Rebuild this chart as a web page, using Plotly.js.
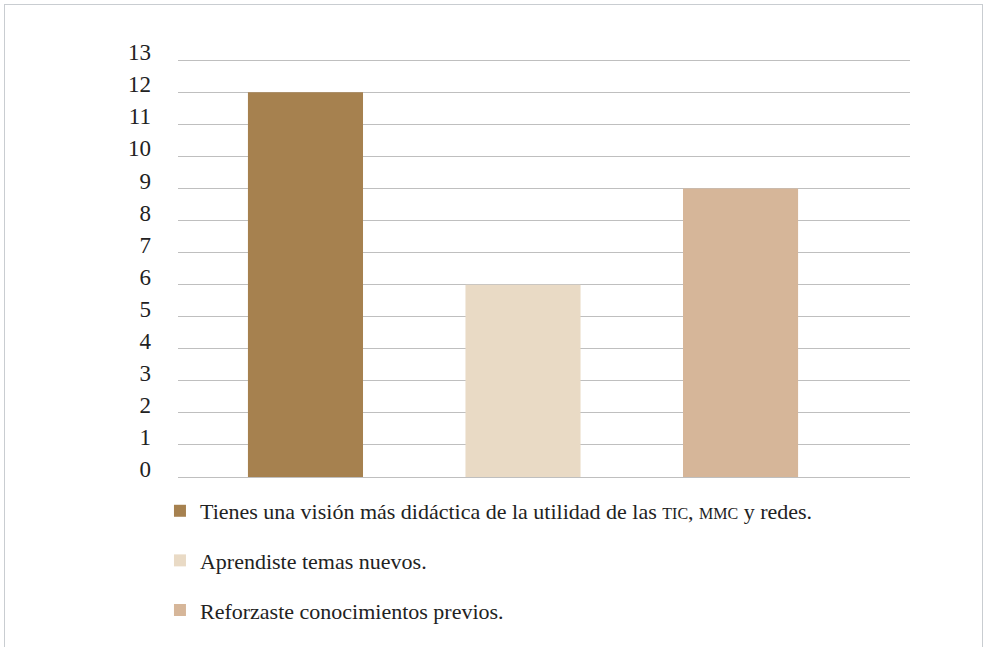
<!DOCTYPE html>
<html>
<head>
<meta charset="utf-8">
<script src="https://cdn.plot.ly/plotly-3.0.1.min.js"></script>
<style>
  html, body { margin: 0; padding: 0; background: #fff; }
  #wrap { position: relative; width: 985px; height: 647px; }
  #chart { width: 985px; height: 647px; }
  #frame { position: absolute; left: 4px; top: 4px; width: 979px; height: 660px;
           border-left: 1px solid #C9CDD1; border-top: 1px solid #C9CDD1; border-right: 1px solid #C9CDD1;
           pointer-events: none; box-sizing: border-box; }
</style>
</head>
<body>
<div id="wrap">
  <div id="chart"></div>
  <div id="frame"></div>
</div>
<script>
const categories = [
  'Tienes una visión más didáctica de la utilidad de las <span style="font-size:16px">TIC</span>, <span style="font-size:16px">MMC</span> y redes.',
  'Aprendiste temas nuevos.',
  'Reforzaste conocimientos previos.'
];
const values = [12, 6, 9];
const colors = ['#A6814F', '#E9DAC5', '#D6B699'];
const tickVals = [0,1,2,3,4,5,6,7,8,9,10,11,12,13];

const serif = 'Liberation Serif, DejaVu Serif, serif';

const traces = categories.map((name, i) => ({
  type: 'bar',
  x: [i],
  y: [values[i]],
  name: name,
  legendgroup: 'g' + i,
  marker: { color: colors[i], line: { width: 0 } },
  width: 0.529,
  hoverinfo: 'y'
}));

const layout = {
  width: 985,
  height: 647,
  margin: { l: 178, r: 75, t: 57, b: 170, autoexpand: false },
  paper_bgcolor: '#ffffff',
  plot_bgcolor: '#ffffff',
  font: { family: serif, color: '#222222', size: 22 },
  barmode: 'overlay',
  xaxis: {
    range: [-0.586, 2.779],
    showticklabels: false,
    showgrid: false,
    zeroline: false,
    showline: true,
    linecolor: '#BFBFBF',
    linewidth: 1,
    ticks: '',
    automargin: false
  },
  yaxis: {
    range: [0, 13.1],
    tickvals: tickVals,
    ticktext: tickVals.map(String),
    showgrid: true,
    gridcolor: '#BFBFBF',
    gridwidth: 1,
    zeroline: false,
    showline: false,
    ticks: '',
    tickfont: { family: serif, size: 23, color: '#222222' },
    ticklabelstandoff: 26,
    ticklabelshift: -8,
    automargin: false
  },
  showlegend: true,
  legend: {
    orientation: 'v',
    traceorder: 'grouped',
    tracegroupgap: 18,
    xref: 'container',
    yref: 'container',
    x: 0.1624,
    xanchor: 'left',
    y: 0.2427,
    yanchor: 'top',
    font: { family: serif, size: 22, color: '#222222' },
    bgcolor: 'rgba(0,0,0,0)'
  }
};

Plotly.newPlot('chart', traces, layout, { displayModeBar: false, staticPlot: true });
</script>
</body>
</html>
